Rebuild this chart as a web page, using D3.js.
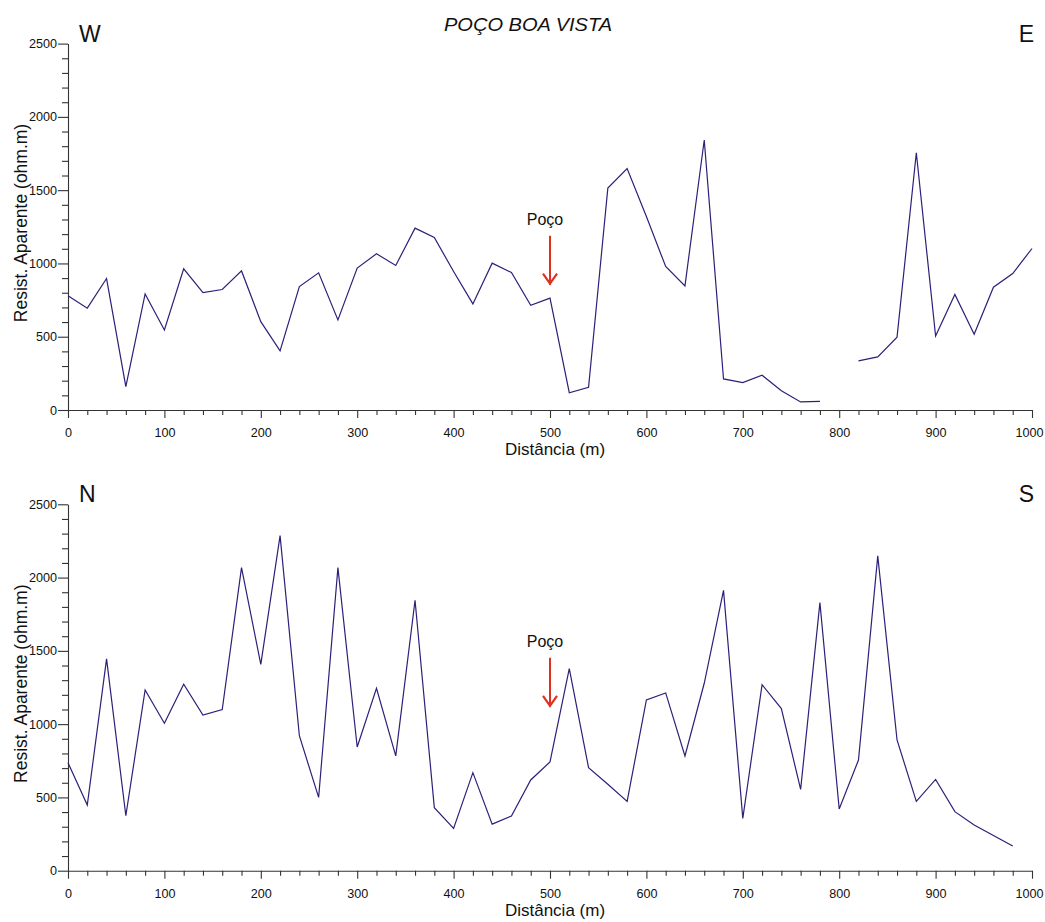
<!DOCTYPE html>
<html>
<head>
<meta charset="utf-8">
<script src="https://cdn.jsdelivr.net/npm/d3@7"></script>
<style>
  html, body { margin: 0; padding: 0; background: #fff; }
  svg { display: block; font-family: "Liberation Sans", Arial, sans-serif; }
</style>
</head>
<body>
<svg id="chart" width="1045" height="922"></svg>
<script>
// Perfil W-E: distância (m) e resistividade aparente (ohm.m); 800 m sem leitura
const distWE = [0, 20, 40, 60, 80, 100, 120, 140, 160, 180, 200, 220, 240, 260, 280, 300,
  320, 340, 360, 380, 400, 420, 440, 460, 480, 500, 520, 540, 560, 580, 600, 620, 640,
  660, 680, 700, 720, 740, 760, 780, 800, 820, 840, 860, 880, 900, 920, 940, 960, 980, 1000];
const resWE = [780, 695, 897, 160, 792, 546, 963, 801, 822, 949, 603, 403, 842, 936, 615, 968,
  1066, 986, 1241, 1177, 945, 724, 1002, 938, 715, 763, 118, 155, 1514, 1648, 1320, 979, 847,
  1842, 212, 187, 237, 132, 55, 59, null, 335, 362, 497, 1755, 505, 788, 517, 838, 931, 1102];

// Perfil N-S
const distNS = [0, 20, 40, 60, 80, 100, 120, 140, 160, 180, 200, 220, 240, 260, 280, 300,
  320, 340, 360, 380, 400, 420, 440, 460, 480, 500, 520, 540, 560, 580, 600, 620, 640,
  660, 680, 700, 720, 740, 760, 780, 800, 820, 840, 860, 880, 900, 920, 940, 960, 980];
const resNS = [737, 448, 1445, 375, 1233, 1006, 1272, 1062, 1099, 2068, 1408, 2286, 921, 500, 2068, 844,
  1244, 783, 1845, 430, 289, 669, 318, 373, 619, 742, 1379, 703, 590, 473, 1165, 1213, 783,
  1279, 1913, 357, 1269, 1106, 555, 1829, 421, 755, 2148, 892, 473, 623, 403, 312, 240, 168];

// Posição do poço e ponta da seta em cada perfil
const pocoDist = 500;
const pocoSetaWE = 855;
const pocoSetaNS = 1118;

const xTicksMajor = [0, 100, 200, 300, 400, 500, 600, 700, 800, 900, 1000];
const yTicksMajor = [0, 500, 1000, 1500, 2000, 2500];

const titulo = "POÇO BOA VISTA";
const rotuloX = "Distância (m)";
const rotuloY = "Resist. Aparente (ohm.m)";

const svg = d3.select("#chart");
const left = 68, right = 1032, plotH = 366.4;
const lineColor = "#2b2178";
const axisColor = "#333";
const fontFam = '"Liberation Sans", Arial, sans-serif';

const x = d3.scaleLinear().domain([0, 1000]).range([left, right]);

function panel(bottomY, dist, res, dirL, dirR, setaVal) {
  const y = d3.scaleLinear().domain([0, 2500]).range([bottomY, bottomY - plotH]);
  const g = svg.append("g");

  const minorX = d3.range(0, 1001, 20).filter(v => v % 100 !== 0);
  const minorY = d3.range(0, 2501, 100).filter(v => v % 500 !== 0);
  const fmt = d3.format("d");

  // eixo X
  g.append("g").attr("transform", `translate(0,${bottomY})`)
    .call(d3.axisBottom(x).tickValues(minorX).tickSize(5).tickFormat("").tickSizeOuter(0))
    .call(s => s.select(".domain").remove());
  const xa = g.append("g").attr("transform", `translate(0,${bottomY})`)
    .call(d3.axisBottom(x).tickValues(xTicksMajor).tickFormat(fmt).tickSize(8).tickPadding(10).tickSizeOuter(0))
    .attr("font-size", 12.6).attr("font-family", fontFam);
  // último rótulo recuado para caber na margem
  xa.selectAll(".tick text").filter(d => d === 1000).attr("dx", -3);

  // eixo Y
  g.append("g").attr("transform", `translate(${left},0)`)
    .call(d3.axisLeft(y).tickValues(minorY).tickSize(6).tickFormat("").tickSizeOuter(0))
    .call(s => s.select(".domain").remove());
  g.append("g").attr("transform", `translate(${left},0)`)
    .call(d3.axisLeft(y).tickValues(yTicksMajor).tickFormat(fmt).tickSize(10).tickPadding(1).tickSizeOuter(0))
    .attr("font-size", 12.6).attr("font-family", fontFam);

  g.selectAll(".domain, .tick line").attr("stroke", axisColor).attr("stroke-width", 1.1);
  g.selectAll(".tick text").attr("fill", "#111");

  // curva de resistividade
  const pts = dist.map((d, i) => ({ d, r: res[i] }));
  g.append("path")
    .datum(pts)
    .attr("fill", "none")
    .attr("stroke", lineColor)
    .attr("stroke-width", 1.2)
    .attr("stroke-linejoin", "miter")
    .attr("d", d3.line().defined(p => p.r !== null).x(p => x(p.d)).y(p => y(p.r)));

  // rótulos dos eixos
  g.append("text")
    .attr("x", 555).attr("y", bottomY + 45)
    .attr("text-anchor", "middle")
    .style("font-size", "17px").attr("fill", "#111")
    .text(rotuloX);
  g.append("text")
    .attr("transform", `translate(26.5,${bottomY - 187}) rotate(-90)`)
    .attr("text-anchor", "middle")
    .style("font-size", "17.5px").attr("fill", "#111")
    .text(rotuloY);

  // orientação do perfil
  g.append("text").attr("x", 79).attr("y", bottomY - 368.5)
    .style("font-size", "23px").attr("fill", "#111").text(dirL);
  g.append("text").attr("x", 1034).attr("y", bottomY - 368.5)
    .attr("text-anchor", "end")
    .style("font-size", "23px").attr("fill", "#111").text(dirR);

  // poço
  const px = x(pocoDist);
  const tip = y(setaVal);
  g.append("text").attr("x", px - 5).attr("y", tip - 60)
    .attr("text-anchor", "middle")
    .style("font-size", "16px").attr("fill", "#111").text("Poço");
  g.append("line")
    .attr("x1", px).attr("x2", px).attr("y1", tip - 49).attr("y2", tip)
    .attr("stroke", "#e0301e").attr("stroke-width", 2);
  g.append("path")
    .attr("d", `M${px - 7},${tip - 11}L${px},${tip - 1}L${px + 7},${tip - 11}`)
    .attr("fill", "none").attr("stroke", "#e0301e").attr("stroke-width", 2.2);

  return g;
}

panel(410, distWE, resWE, "W", "E", pocoSetaWE);
panel(870.7, distNS, resNS, "N", "S", pocoSetaNS);

svg.append("text")
  .attr("x", 528).attr("y", 31)
  .attr("text-anchor", "middle")
  .attr("textLength", 168).attr("lengthAdjust", "spacingAndGlyphs")
  .style("font-size", "18px").style("font-style", "italic").attr("fill", "#111")
  .text(titulo);
</script>
</body>
</html>
